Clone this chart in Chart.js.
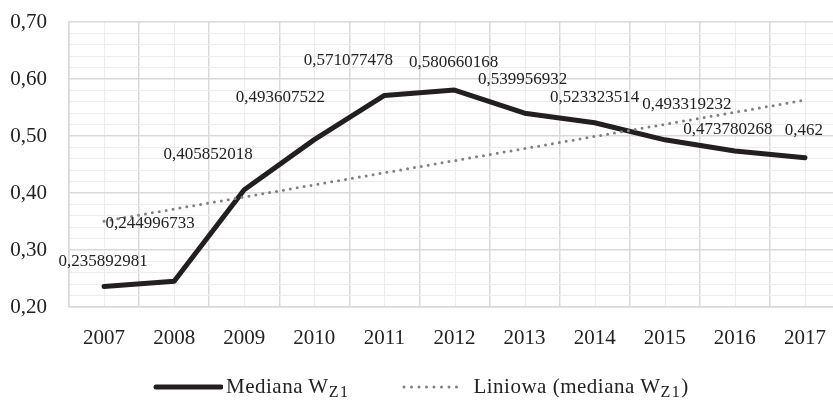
<!DOCTYPE html>
<html>
<head>
<meta charset="utf-8">
<script src="https://cdn.jsdelivr.net/npm/chart.js@4"></script>
<style>
  body { margin: 0; background: #fff; }
  .frame { position: relative; width: 833px; height: 400px; overflow: hidden; }
  .wrap { position: absolute; left: 0; top: 0; width: 840px; height: 400px; }
  .legend { position: absolute; left: 152px; top: 374px; display: flex; align-items: center;
            font-family: "Liberation Serif", serif; font-size: 21px; color: #222; white-space: nowrap;
            letter-spacing: 0.5px; }
  .legend sub { font-size: 16px; vertical-align: -4px; line-height: 0; letter-spacing: 1.5px; }
  .legend svg { display: block; }
</style>
</head>
<body>
<div class="frame">
  <div class="wrap"><canvas id="chart"></canvas></div>
  <div class="legend">
    <svg width="71" height="12"><line x1="4" y1="6" x2="69" y2="6" stroke="#231f20" stroke-width="5" stroke-linecap="round"/></svg>
    <span style="margin-left:3px">Mediana W<sub>Z1</sub></span>
    <svg width="64" height="12" style="margin-left:53px"><line x1="2" y1="6" x2="62" y2="6" stroke="#808080" stroke-width="3" stroke-linecap="round" stroke-dasharray="0 7.5"/></svg>
    <span style="margin-left:7px">Liniowa (mediana W<sub>Z1</sub>)</span>
  </div>
</div>
<script>
// dane
const years = ['2007', '2008', '2009', '2010', '2011', '2012', '2013', '2014', '2015', '2016', '2017'];
const medianaWZ1 = [0.235892981, 0.244996733, 0.405852018, 0.493607522, 0.571077478, 0.580660168,
                    0.539956932, 0.523323514, 0.493319232, 0.473780268, 0.462];
// linia trendu (odczytane końce)
const trendWZ1 = [0.3506, null, null, null, null, null, null, null, null, null, 0.5629];
const yMin = 0.2;
const yMax = 0.7;

// przesunięcia etykiet danych względem punktu
const labelShift = [[-1, -25], [-24, -58], [-36, -35], [-34, -42], [-36, -35], [-1, -27],
                    [-2, -34], [0, -25], [22, -35], [-7, -21], [-1, -27]];

const font = 'Liberation Serif';

const minorGridX = {
    id: 'minorGridX',
    beforeDraw(chart) {
        const x = chart.scales.x, area = chart.chartArea, ctx = chart.ctx;
        ctx.save();
        ctx.strokeStyle = '#ececec';
        ctx.lineWidth = 1;
        years.forEach((y, i) => {
            const px = Math.round(x.getPixelForValue(i)) + 0.5;
            ctx.beginPath();
            ctx.moveTo(px, area.top);
            ctx.lineTo(px, area.bottom);
            ctx.stroke();
        });
        ctx.restore();
    }
};

const valueLabels = {
    id: 'valueLabels',
    afterDatasetsDraw(chart) {
        const meta = chart.getDatasetMeta(1);
        const ctx = chart.ctx;
        ctx.save();
        ctx.font = `17px "${font}"`;
        ctx.fillStyle = '#222';
        ctx.textAlign = 'center';
        ctx.textBaseline = 'middle';
        meta.data.forEach((pt, i) => {
            const txt = String(medianaWZ1[i]).replace('.', ',');
            ctx.fillText(txt, pt.x + labelShift[i][0], pt.y + labelShift[i][1]);
        });
        ctx.restore();
    }
};

new Chart(document.getElementById('chart'), {
    type: 'line',
    data: {
        labels: years,
        datasets: [{
            label: 'Liniowa (mediana WZ1)',
            data: trendWZ1,
            spanGaps: true,
            borderColor: '#808080',
            borderWidth: 3,
            borderDash: [0, 7],
            borderCapStyle: 'round',
            pointRadius: 0,
            order: 0
        }, {
            label: 'Mediana WZ1',
            data: medianaWZ1,
            borderColor: '#231f20',
            borderWidth: 5,
            borderJoinStyle: 'round',
            borderCapStyle: 'round',
            pointRadius: 0,
            tension: 0,
            order: 1
        }]
    },
    options: {
        responsive: true,
        maintainAspectRatio: false,
        animation: false,
        layout: { padding: { top: 22, right: 0, left: 0, bottom: 0 } },
        plugins: { legend: { display: false }, tooltip: { enabled: false } },
        scales: {
            x: {
                offset: true,
                grid: {
                    offset: true,
                    drawTicks: false,
                    color: '#d9d9d9',
                    lineWidth: 1.5
                },
                border: { color: '#d9d9d9', width: 1.5 },
                ticks: { padding: 19, color: '#222', font: { family: font, size: 21 }, maxRotation: 0 },
                afterFit: s => { s.height = 93; s.paddingLeft = 0; s.paddingRight = 0; }
            },
            y: {
                min: yMin,
                max: yMax,
                grid: {
                    drawTicks: false,
                    color: c => (Math.round(c.tick.value * 100) % 10 === 0 ? '#d9d9d9' : '#ececec'),
                    lineWidth: c => (Math.round(c.tick.value * 100) % 10 === 0 ? 1.5 : 1)
                },
                border: { color: '#d9d9d9', width: 1.5 },
                ticks: {
                    stepSize: 0.02,
                    maxTicksLimit: 40,
                    autoSkip: false,
                    padding: 22,
                    color: '#222',
                    font: { family: font, size: 21 },
                    callback: v => (Math.round(v * 100) % 10 === 0 ? v.toFixed(2).replace('.', ',') : '')
                },
                afterFit: s => { s.width = 69; s.paddingTop = 0; s.paddingBottom = 0; }
            }
        }
    },
    plugins: [minorGridX, valueLabels]
});
</script>
</body>
</html>
